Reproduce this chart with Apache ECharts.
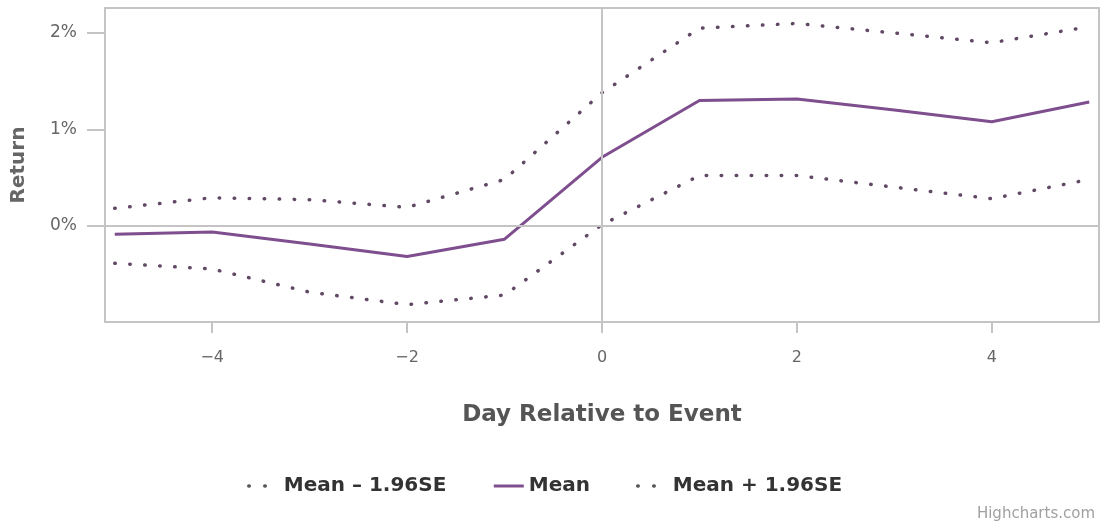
<!DOCTYPE html>
<html>
<head>
<meta charset="utf-8">
<script src="https://cdn.jsdelivr.net/npm/echarts@6/dist/echarts.min.js"></script>
<style>
  html, body { margin: 0; padding: 0; background: #ffffff; }
  #chart { width: 1106px; height: 529px; }
</style>
</head>
<body>
<div id="chart"></div>
<script>
// ---- data ----
var days = [-5, -4, -3, -2, -1, 0, 1, 2, 3, 4, 5];
var meanValues  = [-0.09, -0.065, -0.19, -0.32, -0.14, 0.71, 1.30, 1.315, 1.20, 1.08, 1.285];
var upperValues = [0.18, 0.29, 0.27, 0.19, 0.48, 1.38, 2.05, 2.10, 2.00, 1.90, 2.065];
var lowerValues = [-0.39, -0.45, -0.69, -0.82, -0.72, 0.01, 0.52, 0.52, 0.40, 0.28, 0.48];
var xTickValues = [-4, -2, 0, 2, 4];
var yTickValues = [0, 1, 2];
var seriesNames = ['Mean \u2013 1.96SE', 'Mean', 'Mean + 1.96SE'];

function pairs(vals) {
  return days.map(function (d, i) { return [d, vals[i]]; });
}

var font = '"DejaVu Sans", "Lucida Grande", sans-serif';
var meanColor = '#7e4e8e';
var dotColor = '#614865';
var frameColor = '#c4c4c4';
var dotStyle = { color: dotColor, width: 3.5, type: [0.5, 14.5], cap: 'round' };
var legendDotStyle = { color: '#555555', width: 3.5, type: [0.5, 15.5], cap: 'round' };

var chart = echarts.init(document.getElementById('chart'), null, { renderer: 'canvas' });
chart.setOption({
  animation: false,
  backgroundColor: '#ffffff',
  textStyle: { fontFamily: font },
  title: {
    text: 'Highcharts.com',
    right: 6,
    bottom: 2,
    textStyle: { fontFamily: font, fontSize: 15, fontWeight: 'normal', color: '#a0a0a0' }
  },
  grid: {
    left: 105, right: 7, top: 8, bottom: 207,
    show: true,
    borderColor: frameColor,
    borderWidth: 2,
    backgroundColor: 'transparent'
  },
  legend: {
    data: [
      { name: seriesNames[0], lineStyle: legendDotStyle },
      { name: seriesNames[1], lineStyle: { color: meanColor, width: 3 } },
      { name: seriesNames[2], lineStyle: legendDotStyle }
    ],
    left: 242,
    top: 471,
    itemWidth: 30,
    itemHeight: 14,
    itemGap: 46,
    itemStyle: { opacity: 0 },
    textStyle: { fontFamily: font, fontSize: 20, fontWeight: 'bold', color: '#333333' }
  },
  xAxis: {
    type: 'value',
    min: -5.1,
    max: 5.1,
    name: 'Day Relative to Event',
    nameLocation: 'middle',
    nameGap: 82,
    nameTextStyle: { fontFamily: font, fontSize: 23, fontWeight: 'bold', color: '#555555' },
    axisLine: { show: false, onZero: false },
    axisTick: { show: true, customValues: xTickValues, length: 11, lineStyle: { color: frameColor, width: 2 } },
    axisLabel: {
      customValues: xTickValues,
      margin: 28,
      fontFamily: font, fontSize: 16, color: '#666666',
      formatter: function (v) { return String(v).replace('-', '\u2212'); }
    },
    splitLine: { show: false }
  },
  yAxis: {
    type: 'value',
    min: -1,
    max: 2.26,
    name: 'Return',
    nameLocation: 'middle',
    nameGap: 76,
    nameTextStyle: { fontFamily: font, fontSize: 20, fontWeight: 'bold', color: '#666666' },
    axisLine: { show: false, onZero: false },
    axisTick: { show: true, customValues: yTickValues, length: 18, lineStyle: { color: frameColor, width: 2 } },
    axisLabel: {
      customValues: yTickValues,
      margin: 28,
      fontFamily: font, fontSize: 17, color: '#666666',
      formatter: function (v) { return v + '%'; }
    },
    splitLine: { show: false }
  },
  series: [
    {
      name: 'zero-lines',
      type: 'line',
      data: [],
      z: 1,
      silent: true,
      markLine: {
        silent: true,
        symbol: ['none', 'none'],
        label: { show: false },
        lineStyle: { color: frameColor, width: 2, type: 'solid' },
        data: [{ xAxis: 0 }, { yAxis: 0 }]
      }
    },
    {
      name: seriesNames[0],
      type: 'line',
      data: pairs(lowerValues),
      showSymbol: false,
      symbol: 'none',
      z: 3,
      color: dotColor,
      lineStyle: dotStyle
    },
    {
      name: seriesNames[1],
      type: 'line',
      data: pairs(meanValues),
      showSymbol: false,
      symbol: 'none',
      z: 4,
      color: meanColor,
      lineStyle: { color: meanColor, width: 3 }
    },
    {
      name: seriesNames[2],
      type: 'line',
      data: pairs(upperValues),
      showSymbol: false,
      symbol: 'none',
      z: 3,
      color: dotColor,
      lineStyle: dotStyle
    }
  ]
});
</script>
</body>
</html>
